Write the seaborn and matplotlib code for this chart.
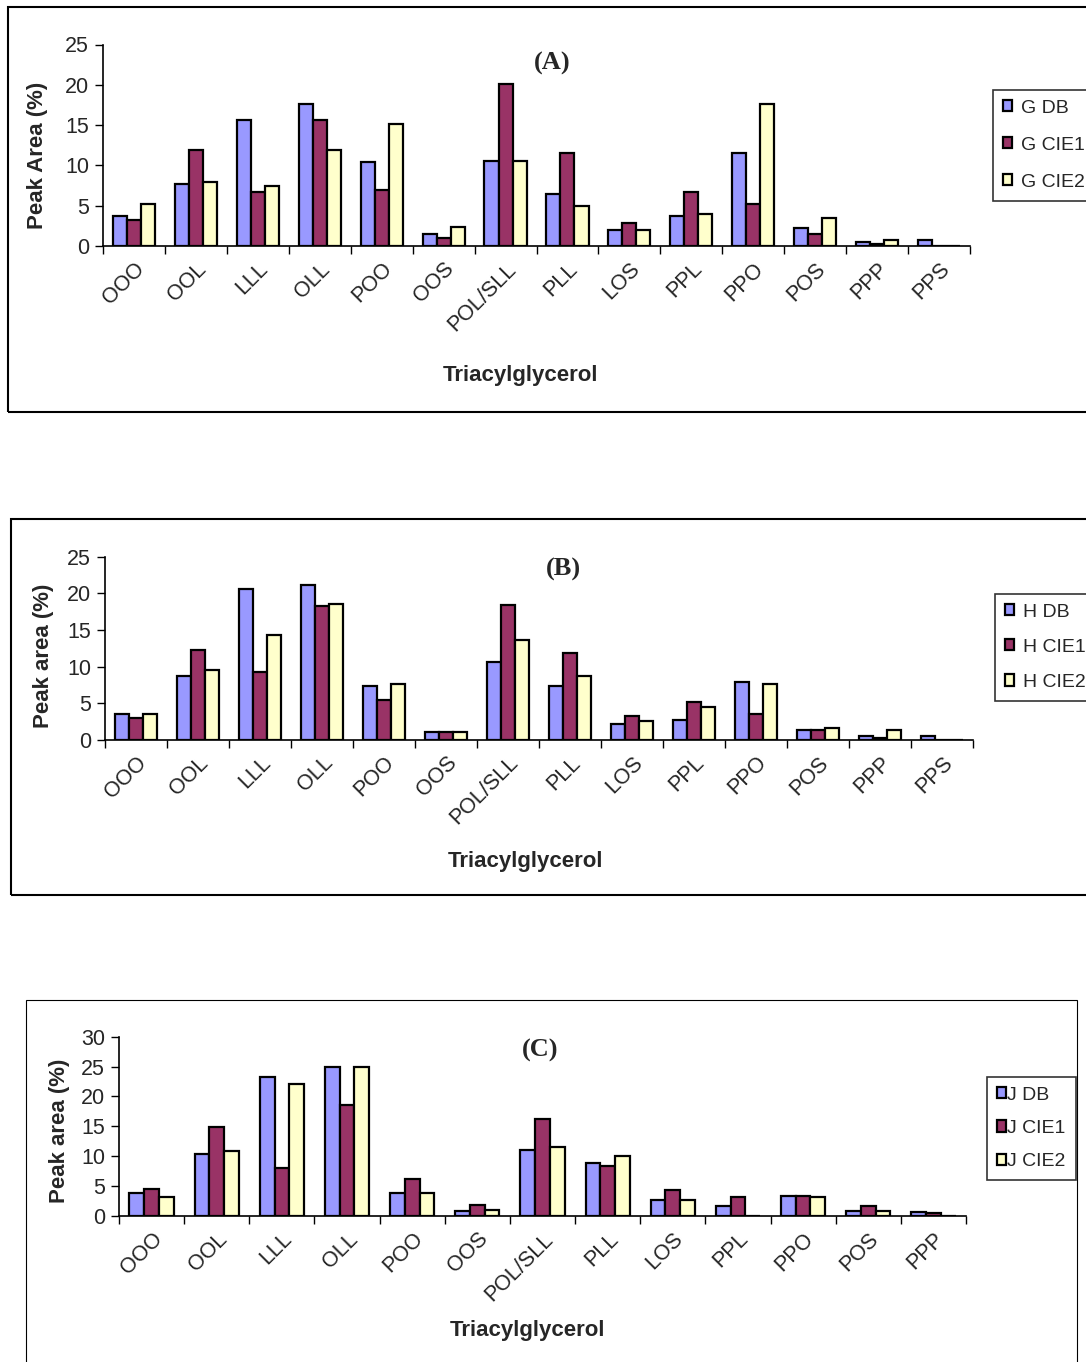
import numpy as np
import pandas as pd
import seaborn as sns
import matplotlib
matplotlib.use("Agg")
import matplotlib.pyplot as plt
from matplotlib.patches import Rectangle

# ---- data ----
tags_ab = ["OOO", "OOL", "LLL", "OLL", "POO", "OOS", "POL/SLL", "PLL",
           "LOS", "PPL", "PPO", "POS", "PPP", "PPS"]
tags_c = tags_ab[:-1]

g_db = [3.7, 7.7, 15.6, 17.6, 10.4, 1.5, 10.6, 6.5, 2.0, 3.7, 11.6, 2.2, 0.5, 0.75]
g_cie1 = [3.2, 11.9, 6.7, 15.6, 6.9, 1.0, 20.1, 11.6, 2.8, 6.7, 5.2, 1.5, 0.3, 0.0]
g_cie2 = [5.2, 7.9, 7.5, 11.9, 15.1, 2.4, 10.6, 5.0, 2.0, 4.0, 17.6, 3.5, 0.75, 0.0]

h_db = [3.5, 8.65, 20.6, 21.2, 7.3, 1.05, 10.6, 7.3, 2.2, 2.7, 7.9, 1.37, 0.55, 0.55]
h_cie1 = [3.0, 12.2, 9.2, 18.2, 5.4, 1.05, 18.4, 11.9, 3.3, 5.1, 3.55, 1.37, 0.27, 0.0]
h_cie2 = [3.5, 9.5, 14.3, 18.5, 7.6, 1.05, 13.6, 8.7, 2.5, 4.4, 7.6, 1.64, 1.37, 0.0]

j_db = [3.9, 10.3, 23.3, 24.9, 3.9, 0.84, 11.0, 8.9, 2.6, 1.6, 3.4, 0.9, 0.67]
j_cie1 = [4.6, 14.9, 8.1, 18.6, 6.2, 1.9, 16.3, 8.4, 4.35, 3.1, 3.4, 1.7, 0.5]
j_cie2 = [3.2, 10.8, 22.1, 25.0, 3.9, 1.0, 11.6, 10.0, 2.7, 0.0, 3.2, 0.9, 0.0]

colors = ["#9999FF", "#993366", "#FFFFCC"]

W, H = 1086, 1362
sns.set_style("ticks")
plt.rcParams["font.family"] = ["Liberation Sans", "DejaVu Sans"]

fig = plt.figure(figsize=(W / 100, H / 100), dpi=100)


def px_axes(left, right, bottom, top):
    return fig.add_axes([left / W, 1 - bottom / H, (right - left) / W, (bottom - top) / H])


def draw_panel(ax, tags, series, names, ymax, title, title_xy, ylabel, ylab_xy,
               xlab_xy, leg_xy, leg_space, text_pad):
    df = pd.DataFrame({
        "tag": np.tile(tags, 3),
        "val": np.concatenate(series),
        "grp": np.repeat(names, len(tags)),
    })
    sns.barplot(data=df, x="tag", y="val", hue="grp", palette=colors,
                width=0.68, edgecolor="black", linewidth=1.6, ax=ax,
                errorbar=None, saturation=1)
    n = len(tags)
    ax.set_xlim(-0.5, n - 0.5)
    ax.set_ylim(0, ymax)
    ax.set_yticks(np.arange(0, ymax + 1, 5))
    ax.set_xticks(np.arange(n))
    ax.set_xticks(np.arange(n + 1) - 0.5, minor=True)
    ax.tick_params(axis="x", which="major", length=0, labelsize=15.5, pad=9)
    ax.tick_params(axis="x", which="minor", length=6, width=1, color="black", direction="out")
    ax.tick_params(axis="y", length=6, width=1, color="black", direction="out",
                   labelsize=15.5, pad=4)
    for lab in ax.get_xticklabels():
        lab.set_rotation(45)
        lab.set_ha("right")
        lab.set_va("top")
        lab.set_rotation_mode("anchor")
    sns.despine(ax=ax)
    for s in ("left", "bottom"):
        ax.spines[s].set_linewidth(1.2)
        ax.spines[s].set_color("black")

    ax.set_ylabel(ylabel, fontsize=16, fontweight="bold")
    ax.yaxis.set_label_coords(*ylab_xy)
    ax.yaxis.label.set_va("center")
    ax.set_xlabel("Triacylglycerol", fontsize=16, fontweight="bold")
    ax.xaxis.set_label_coords(*xlab_xy)
    ax.xaxis.label.set_va("center")
    ax.text(*title_xy, title, transform=ax.transAxes, ha="center", va="center",
            fontsize=19, fontweight="bold", family=["Liberation Serif", "DejaVu Serif"])

    handles, labels = ax.get_legend_handles_labels()
    leg = ax.legend(handles, labels, loc="upper left",
                    bbox_to_anchor=(leg_xy[0] / W, 1 - leg_xy[1] / H),
                    bbox_transform=fig.transFigure, borderaxespad=0,
                    fontsize=14, frameon=True, fancybox=False, shadow=False,
                    handlelength=0.5, handleheight=0.5, handletextpad=text_pad,
                    labelspacing=leg_space, borderpad=0.5)
    leg.get_frame().set_edgecolor("black")
    leg.get_frame().set_linewidth(1.2)
    for hnd in leg.legend_handles:
        hnd.set_edgecolor("black")
        hnd.set_linewidth(1.6)


# panel boxes
fig.add_artist(Rectangle((8 / W, 1 - 412 / H), (1100 - 8) / W, (412 - 7) / H,
                         transform=fig.transFigure, fill=False, lw=1.5, ec="black"))
fig.add_artist(Rectangle((11 / W, 1 - 895 / H), (1100 - 11) / W, (895 - 519) / H,
                         transform=fig.transFigure, fill=False, lw=1.5, ec="black"))
fig.add_artist(Rectangle((26 / W, 1 - 1400 / H), (1077 - 26) / W, (1400 - 1000) / H,
                         transform=fig.transFigure, fill=False, lw=0.8, ec="black"))

ax_a = px_axes(103, 970, 246, 44.5)
draw_panel(ax_a, tags_ab, [g_db, g_cie1, g_cie2], ["G DB", "G CIE1", "G CIE2"], 25,
           "(A)", (0.518, 0.908), "Peak Area (%)", (-0.075, 0.45),
           (0.481, -0.645), (993, 90), 1.03, 0.45)

ax_b = px_axes(105, 973, 739.7, 556.7)
draw_panel(ax_b, tags_ab, [h_db, h_cie1, h_cie2], ["H DB", "H CIE1", "H CIE2"], 25,
           "(B)", (0.528, 0.933), "Peak area (%)", (-0.071, 0.457),
           (0.484, -0.663), (995, 594), 0.93, 0.45)

ax_c = px_axes(119, 966, 1216, 1036.7)
draw_panel(ax_c, tags_c, [j_db, j_cie1, j_cie2], ["J DB", "J CIE1", "J CIE2"], 30,
           "(C)", (0.497, 0.926), "Peak area (%)", (-0.07, 0.474),
           (0.482, -0.641), (987, 1077), 0.83, 0.05)

fig.savefig("out.png", dpi=100)
